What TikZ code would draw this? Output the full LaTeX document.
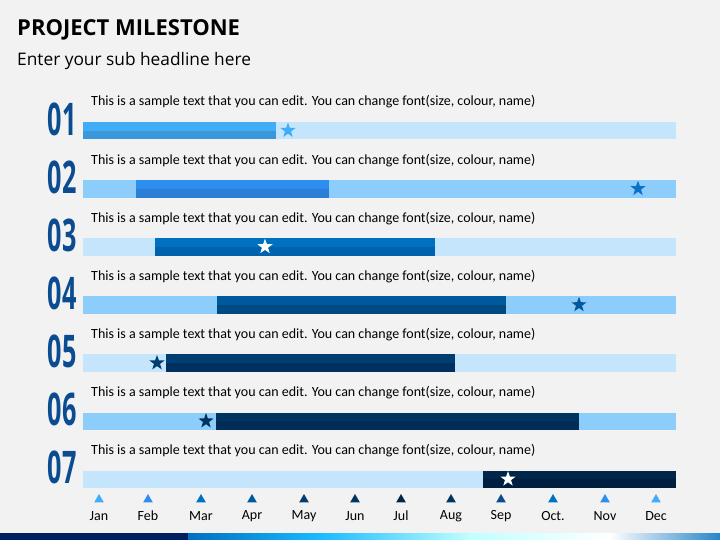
\documentclass[tikz,border=0pt]{standalone}
\usepackage{fontspec}
\setmainfont{Carlito}
\newfontfamily\headfont{Open Sans}
\usetikzlibrary{shapes.geometric}

\definecolor{pagebg}{HTML}{F2F2F2}
\definecolor{barpale}{HTML}{C5E5FC}
\definecolor{barsky}{HTML}{8DCDFC}
\definecolor{numblue}{HTML}{0B4C91}
\definecolor{toneAt}{HTML}{41ADF7}
\definecolor{toneAb}{HTML}{3A97DA}
\definecolor{toneBt}{HTML}{2E8EF0}
\definecolor{toneBb}{HTML}{2A7ED5}
\definecolor{toneCt}{HTML}{0070C0}
\definecolor{toneCb}{HTML}{0062AC}
\definecolor{toneDt}{HTML}{00599C}
\definecolor{toneDb}{HTML}{004A82}
\definecolor{toneEt}{HTML}{003D70}
\definecolor{toneEb}{HTML}{003060}
\definecolor{toneFt}{HTML}{003460}
\definecolor{toneFb}{HTML}{002D55}
\definecolor{toneGt}{HTML}{00264A}
\definecolor{toneGb}{HTML}{001F40}
\definecolor{starB}{HTML}{0A70C8}
\definecolor{navy}{HTML}{002060}

\tikzset{
  rownum/.style={
    text=numblue,
    inner sep=0pt,
    font=\headfont\bfseries\fontsize{45}{45}\selectfont
  },
  rowtext/.style={
    anchor=west,
    inner sep=0pt,
    font=\fontsize{14}{16}\selectfont
  },
  milestar/.style={
    star,
    star points=5,
    star point ratio=2.5,
    minimum size=16pt,
    inner sep=0pt
  },
  monthtip/.style={
    regular polygon,
    regular polygon sides=3,
    minimum size=11pt,
    inner sep=0pt
  },
  monthlabel/.style={
    inner sep=0pt,
    font=\fontsize{14}{16}\selectfont
  }
}

\begin{document}
\begin{tikzpicture}[x=1pt,y=-1pt]
  \useasboundingbox (0,0) rectangle (720,540);
  \fill[pagebg] (0,0) rectangle (720,540);

  % headline
  \node[anchor=base west,inner sep=0pt,font=\headfont\bfseries\fontsize{22}{26}\selectfont]
    (title) at (17,36) {PROJECT MILESTONE};
  \node[anchor=base west,inner sep=0pt,font=\headfont\fontsize{17.3}{20}\selectfont]
    (subtitle) at (17,66) {Enter your sub headline here};

  % rows: number / background / segment start / end / tone / star x / star colour
  \foreach \i/\bg/\sx/\ex/\tone/\stx/\stc in {
      01/barpale/83/276/A/288/toneAt,
      02/barsky/136/329/B/638/starB,
      03/barpale/155/435/C/265/white,
      04/barsky/217/506/D/579/toneDt,
      05/barpale/166/455/E/157/toneEt,
      06/barsky/216/579/F/206/toneFt,
      07/barpale/483/676/G/508/white}{
    \pgfmathsetmacro{\yy}{122+58.1*(\i-1)}
    \fill[\bg] (83,\yy) rectangle (676,\yy+17.5);
    \fill[tone\tone t] (\sx,\yy) rectangle (\ex,\yy+8.75);
    \fill[tone\tone b] (\sx,\yy+8.75) rectangle (\ex,\yy+17.5);
    \node[milestar,fill=\stc] (star\i) at (\stx,\yy+8.5) {};
    \node[rownum] (num\i) at (62,\yy-3) {\scalebox{0.56}[1]{\i}};
    \node[rowtext] (txt\i) at (91,\yy-20)
      {This is a sample text that you can edit. You can change font(size, colour, name)};
  }

  % months
  \foreach \m/\x/\c [count=\k] in {
      Jan/99/toneAt, Feb/148/toneBt, Mar/201/toneCt, Apr/252/toneDt,
      May/304/toneEt, Jun/355/toneFt, Jul/401/toneGt, Aug/451/toneFt,
      Sep/501/numblue, Oct./553/toneCt, Nov/605/toneBt, Dec/656/toneAt}{
    \node[monthtip,fill=\c] (tip\k) at (\x,499.5) {};
    \node[monthlabel] (mon\k) at (\x,516) {\m};
  }

  % footer strip
  \fill[navy] (0,533) rectangle (188,540);
  \shade[left color=toneCt,right color=cyan!70!blue!90] (188,533) rectangle (320,540);
  \shade[left color=cyan!70!blue!90,right color=cyan!25] (319.5,533) rectangle (470,540);
  \shade[left color=cyan!25,right color=white] (469.5,533) rectangle (610,540);
  \shade[left color=white,right color=toneCt!85] (609.5,533) rectangle (720,540);
\end{tikzpicture}
\end{document}
